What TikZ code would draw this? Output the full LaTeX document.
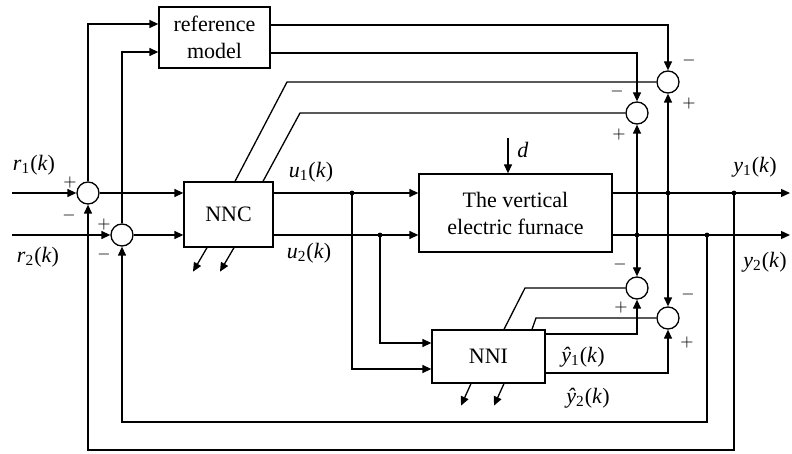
\documentclass[tikz,border=0pt]{standalone}
\usepackage{fontspec}
\setmainfont{Liberation Serif}
\usetikzlibrary{arrows.meta,positioning,calc}
\tikzset{
  blk/.style={draw, inner sep=0pt, align=center, font=\fontsize{11}{13.5}\selectfont},
  sumj/.style={draw, circle, minimum size=11pt, inner sep=0pt},
  sig/.style={font=\fontsize{8}{9}\selectfont, inner sep=0pt},
  lab/.style={font=\fontsize{11}{13}\selectfont, inner sep=0pt}
}
\newcommand{\sig}[2]{\textit{#1}\textsubscript{#2}(\textit{k})}
\newcommand{\sighat}[2]{\textit{\^{#1}}\textsubscript{#2}(\textit{k})}
\begin{document}
\begin{tikzpicture}[x=0.5pt, y=-0.5pt, line width=0.65pt, >={Triangle[length=4.5pt,width=4pt]}]
\useasboundingbox (0,0) rectangle (792,454);
\node[blk, minimum width=55.5pt, minimum height=30.5pt] (ref) at (214.5,37.5) {reference\\model};
\node[blk, minimum width=44.5pt, minimum height=32.5pt] (nnc) at (228.5,214.5) {NNC};
\node[blk, minimum width=96.5pt, minimum height=39pt] (fur) at (515.5,213) {The vertical\\electric furnace};
\node[blk, minimum width=56.5pt, minimum height=26.5pt] (nni) at (488.5,356.5) {NNI};

\node[sumj] (s1) at (88,193) {};
\node[sumj] (s2) at (122,235) {};
\node[sumj] (sA) at (668,82) {};
\node[sumj] (sB) at (637,113) {};
\node[sumj] (sC) at (637,288) {};
\node[sumj] (sD) at (668,318) {};

\coordinate (r1in) at (12,193);
\coordinate (r2in) at (12,235);
\coordinate (tu1) at (352,193);
\coordinate (tu2) at (380,235);
\coordinate (tA) at (668,193);
\coordinate (tB) at (637,235);
\coordinate (tF1) at (734,193);
\coordinate (tF2) at (707,235);
\coordinate (y1out) at (790,193);
\coordinate (y2out) at (790,235);
\coordinate (fb1) at (734,450);
\coordinate (fb2) at (707,422);
\coordinate (din) at (508,138);
\coordinate (kA) at (287,82);
\coordinate (kB) at (300,113);
\coordinate (kC) at (525,288);
\coordinate (kD) at (536,318);

\draw[->] (r1in) -- (s1);
\draw[->] (r2in) -- (s2);
\draw[->] (s1) -- (nnc.west |- s1);
\draw[->] (s2) -- (nnc.west |- s2);
\draw[->] (s1.north) |- ([yshift=6.75pt]ref.west);
\draw[->] (s2.north) |- ([yshift=-7.25pt]ref.west);
\draw[->] ([yshift=6.25pt]ref.east) -| (sA.north);
\draw[->] ([yshift=-7.75pt]ref.east) -| (sB.north);
\draw[->] (nnc.east |- s1) -- (fur.west |- s1);
\draw[->] (nnc.east |- s2) -- (fur.west |- s2);
\draw[->] (tu1) |- ([yshift=-6.25pt]nni.west);
\draw[->] (tu2) |- ([yshift=6.75pt]nni.west);
\draw[->] (din) -- (din |- fur.north);
\draw[->] (fur.east |- s1) -- (y1out);
\draw[->] (fur.east |- s2) -- (y2out);
\draw[->] (tA) -- (sA);
\draw[->] (tA) -- (sD);
\draw[->] (tB) -- (sB);
\draw[->] (tB) -- (sC);
\draw[->] (tF1) -- (fb1) -| (s1);
\draw[->] (tF2) -- (fb2) -| (s2);
\draw (sA) -- (kA) -- ([xshift=3.25pt]nnc.north);
\draw (sB) -- (kB) -- ([xshift=17.25pt]nnc.north);
\draw (sC) -- (kC) -- ([xshift=7.75pt]nni.north);
\draw (sD) -- (kD) -- ([xshift=21.75pt]nni.north);
\draw[->] ([yshift=11.25pt]nni.east) -| (sC);
\draw[->] ([yshift=-8.25pt]nni.east) -| (sD);
\draw[->] ([xshift=-10.75pt]nnc.south) -- ++(-7pt,-12pt);
\draw[->] ([xshift=2.75pt]nnc.south) -- ++(-7pt,-12pt);
\draw[->] ([xshift=-8.75pt]nni.south) -- ++(-5pt,-11pt);
\draw[->] ([xshift=7.75pt]nni.south) -- ++(-5pt,-11pt);
\foreach \t in {tu1,tu2,tA,tB,tF1,tF2} \fill (\t) circle (1.2pt);

\node[sig] (p1) at (70,183) {$+$};
\node[sig] (m1) at (69,216) {$-$};
\node[sig] (p2) at (104,225) {$+$};
\node[sig] (m2) at (104,255) {$-$};
\node[sig] (mA) at (689,61) {$-$};
\node[sig] (pA) at (689,104) {$+$};
\node[sig] (mB) at (617,92) {$-$};
\node[sig] (pB) at (619,135) {$+$};
\node[sig] (mC) at (620,265) {$-$};
\node[sig] (pC) at (621,307) {$+$};
\node[sig] (mD) at (688,295) {$-$};
\node[sig] (pD) at (687,342) {$+$};

\node[lab] (r1lab) at (34,165) {\sig{r}{1}};
\node[lab] (r2lab) at (38,257) {\sig{r}{2}};
\node[lab] (u1lab) at (311,172) {\sig{u}{1}};
\node[lab] (u2lab) at (309,253) {\sig{u}{2}};
\node[lab] (y1lab) at (755,167) {\sig{y}{1}};
\node[lab] (y2lab) at (765,262) {\sig{y}{2}};
\node[lab] (yh1lab) at (583,357) {\sighat{y}{1}};
\node[lab] (yh2lab) at (588,398) {\sighat{y}{2}};
\node[lab] (dlab) at (523,150) {\textit{d}};
\end{tikzpicture}
\end{document}
